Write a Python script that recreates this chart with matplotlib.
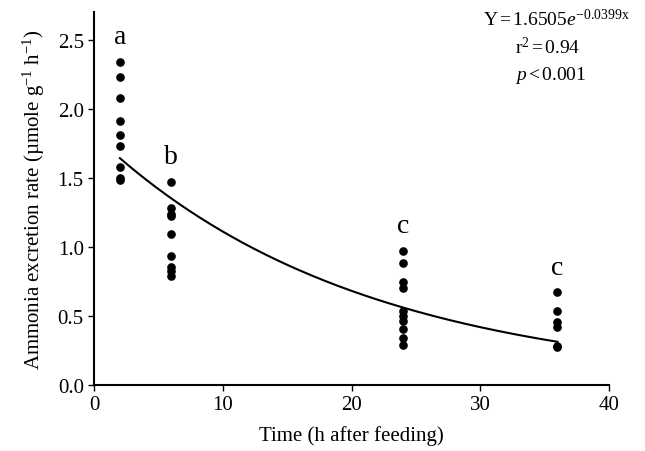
import numpy as np
import matplotlib
matplotlib.use("Agg")
import matplotlib.pyplot as plt

plt.rcParams["font.family"] = ["Liberation Serif", "DejaVu Serif"]
plt.rcParams["mathtext.fontset"] = "custom"
plt.rcParams["mathtext.rm"] = "Liberation Serif"
plt.rcParams["mathtext.it"] = "Liberation Serif:italic"
plt.rcParams["mathtext.bf"] = "Liberation Serif:bold"

# measured excretion rates per sampling time (h after feeding)
t2 = [2.34, 2.23, 2.08, 1.91, 1.81, 1.73, 1.58, 1.50, 1.48]
t6 = [1.47, 1.28, 1.24, 1.22, 1.09, 0.93, 0.85, 0.82, 0.79]
t24 = [0.97, 0.88, 0.74, 0.70, 0.53, 0.50, 0.46, 0.40, 0.34, 0.29]
t36 = [0.67, 0.53, 0.45, 0.42, 0.28, 0.27]
times = [2, 6, 24, 36]
groups = ["a", "b", "c", "c"]

# fitted curve as drawn in the figure
fit_a = 1.81
fit_b = 0.049

fig = plt.figure(figsize=(6.45, 4.52), dpi=100)
ax = fig.add_axes([0.146, 0.147, 0.798, 0.824])

for t, vals, g in zip(times, [t2, t6, t24, t36], groups):
    ax.plot([t] * len(vals), vals, "o", color="black", markersize=5.2)
    ax.text(t, max(vals) + 0.09, g, ha="center", va="bottom", fontsize=20)

xf = np.linspace(2, 36, 200)
ax.plot(xf, fit_a * np.exp(-fit_b * xf), color="black", lw=1.5)

fs = 15
afs = 14
ax.text(1.04, 1.01, r"Y$\,$=$\,$1.6505$e^{\mathrm{-0.0399x}}$", transform=ax.transAxes,
        ha="right", va="top", fontsize=afs)
ax.text(0.818, 0.935, r"r$^{2}$$\,$=$\,$0.94", transform=ax.transAxes,
        ha="left", va="top", fontsize=afs)
ax.text(0.818, 0.86, r"$p$$\,$<$\,$0.001", transform=ax.transAxes,
        ha="left", va="top", fontsize=afs)

ax.set_xlim(0, 40)
ax.set_ylim(0, 2.7)
ax.set_xticks([0, 10, 20, 30, 40])
ax.set_yticks([0.0, 0.5, 1.0, 1.5, 2.0, 2.5])
ax.set_yticklabels(["0.0", "0.5", "1.0", "1.5", "2.0", "2.5"])
ax.spines["top"].set_visible(False)
ax.spines["right"].set_visible(False)
ax.spines["left"].set_linewidth(1.5)
ax.spines["bottom"].set_linewidth(1.5)
ax.tick_params(direction="out", length=4, width=1, labelsize=fs)
ax.set_xlabel("Time (h after feeding)", fontsize=fs, labelpad=8)
ax.set_ylabel(r"Ammonia excretion rate (µmole g$^{-1}$ h$^{-1}$)", fontsize=fs, labelpad=8)

fig.savefig("out.png", dpi=100)
